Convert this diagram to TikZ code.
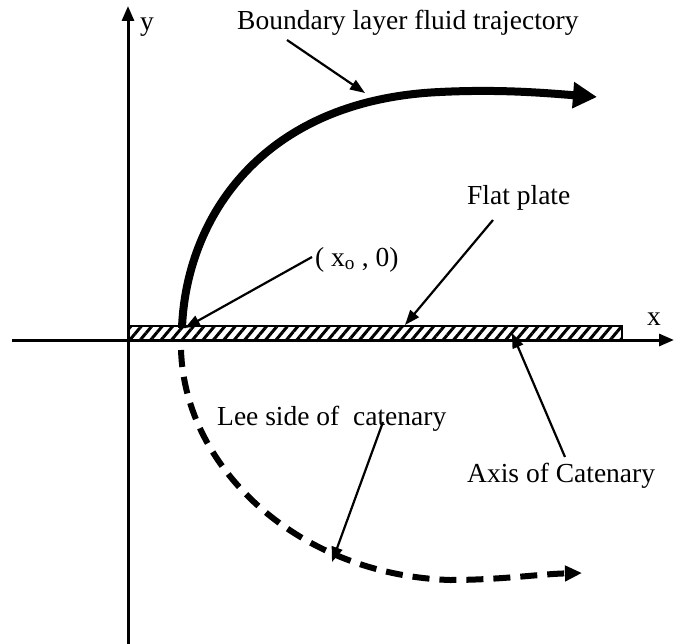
\documentclass[tikz,border=0pt]{standalone}
\usepackage{fontspec}
\setmainfont{Liberation Serif}
\usetikzlibrary{arrows.meta,patterns.meta}
\begin{document}
\begin{tikzpicture}[x=1pt,y=-1pt,
  lbl/.style={font=\fontsize{27.5}{33}\selectfont, inner sep=0pt, anchor=base west},
  axisline/.style={line width=3pt, -{Triangle[length=15pt,width=12pt]}},
  pointer/.style={line width=2.2pt, -{Triangle[length=15pt,width=11pt]}},
  trajectory/.style={line width=8pt, -{Triangle[length=24pt,width=25pt]}},
  lee/.style={line width=6pt, dash pattern=on 17pt off 10pt, -{Triangle[length=17pt,width=15pt]}}]
\useasboundingbox (0,0) rectangle (674,644);
% plate
\filldraw[fill=white, draw=black, line width=2pt,
  pattern={Lines[angle=50,distance=8pt,line width=3pt]}] (128,326) rectangle (622,340);
\draw[line width=2pt] (128,326) rectangle (622,340);
% axes
\coordinate (xs) at (12,340);
\coordinate (xe) at (674,340);
\coordinate (ys) at (128,644);
\coordinate (ye) at (128,6);
\draw[axisline] (xs) -- (xe);
\draw[axisline] (ys) -- (ye);
\node[lbl] (ylab) at (140,31) {y};
\node[lbl] (xlab) at (647,325) {x};
% trajectories
\coordinate (x0) at (182,328);
\coordinate (bl) at (597,97);
\draw[trajectory] (x0) .. controls (186,220) and (260,100) .. (440,92)
  .. controls (500,89) and (545,93) .. (bl);
\coordinate (ls) at (181,350);
\coordinate (le) at (582,573);
\draw[lee] (ls) .. controls (185,470) and (300,575) .. (450,580)
  .. controls (500,580) and (540,574) .. (le);
% labels
\node[lbl] (blt) at (237,30) {Boundary layer fluid trajectory};
\node[lbl] (fpt) at (467,205) {Flat plate};
\node[lbl] (x0t) at (315,266) {( x\textsubscript{o} , 0)};
\node[lbl] (lst) at (217,425) {Lee side of\ \ catenary};
\node[lbl] (act) at (467,482) {Axis of Catenary};
% pointers
\coordinate (p1s) at (287,40);  \coordinate (p1e) at (365,93);
\coordinate (p2s) at (493,220); \coordinate (p2e) at (405,325);
\coordinate (p3s) at (312,257); \coordinate (p3e) at (185,328);
\coordinate (p4s) at (383,422); \coordinate (p4e) at (332,562);
\coordinate (p5s) at (565,457); \coordinate (p5e) at (512,333);
\draw[pointer] (p1s) -- (p1e);
\draw[pointer] (p2s) -- (p2e);
\draw[pointer] (p3s) -- (p3e);
\draw[pointer] (p4s) -- (p4e);
\draw[pointer] (p5s) -- (p5e);
\end{tikzpicture}
\end{document}
